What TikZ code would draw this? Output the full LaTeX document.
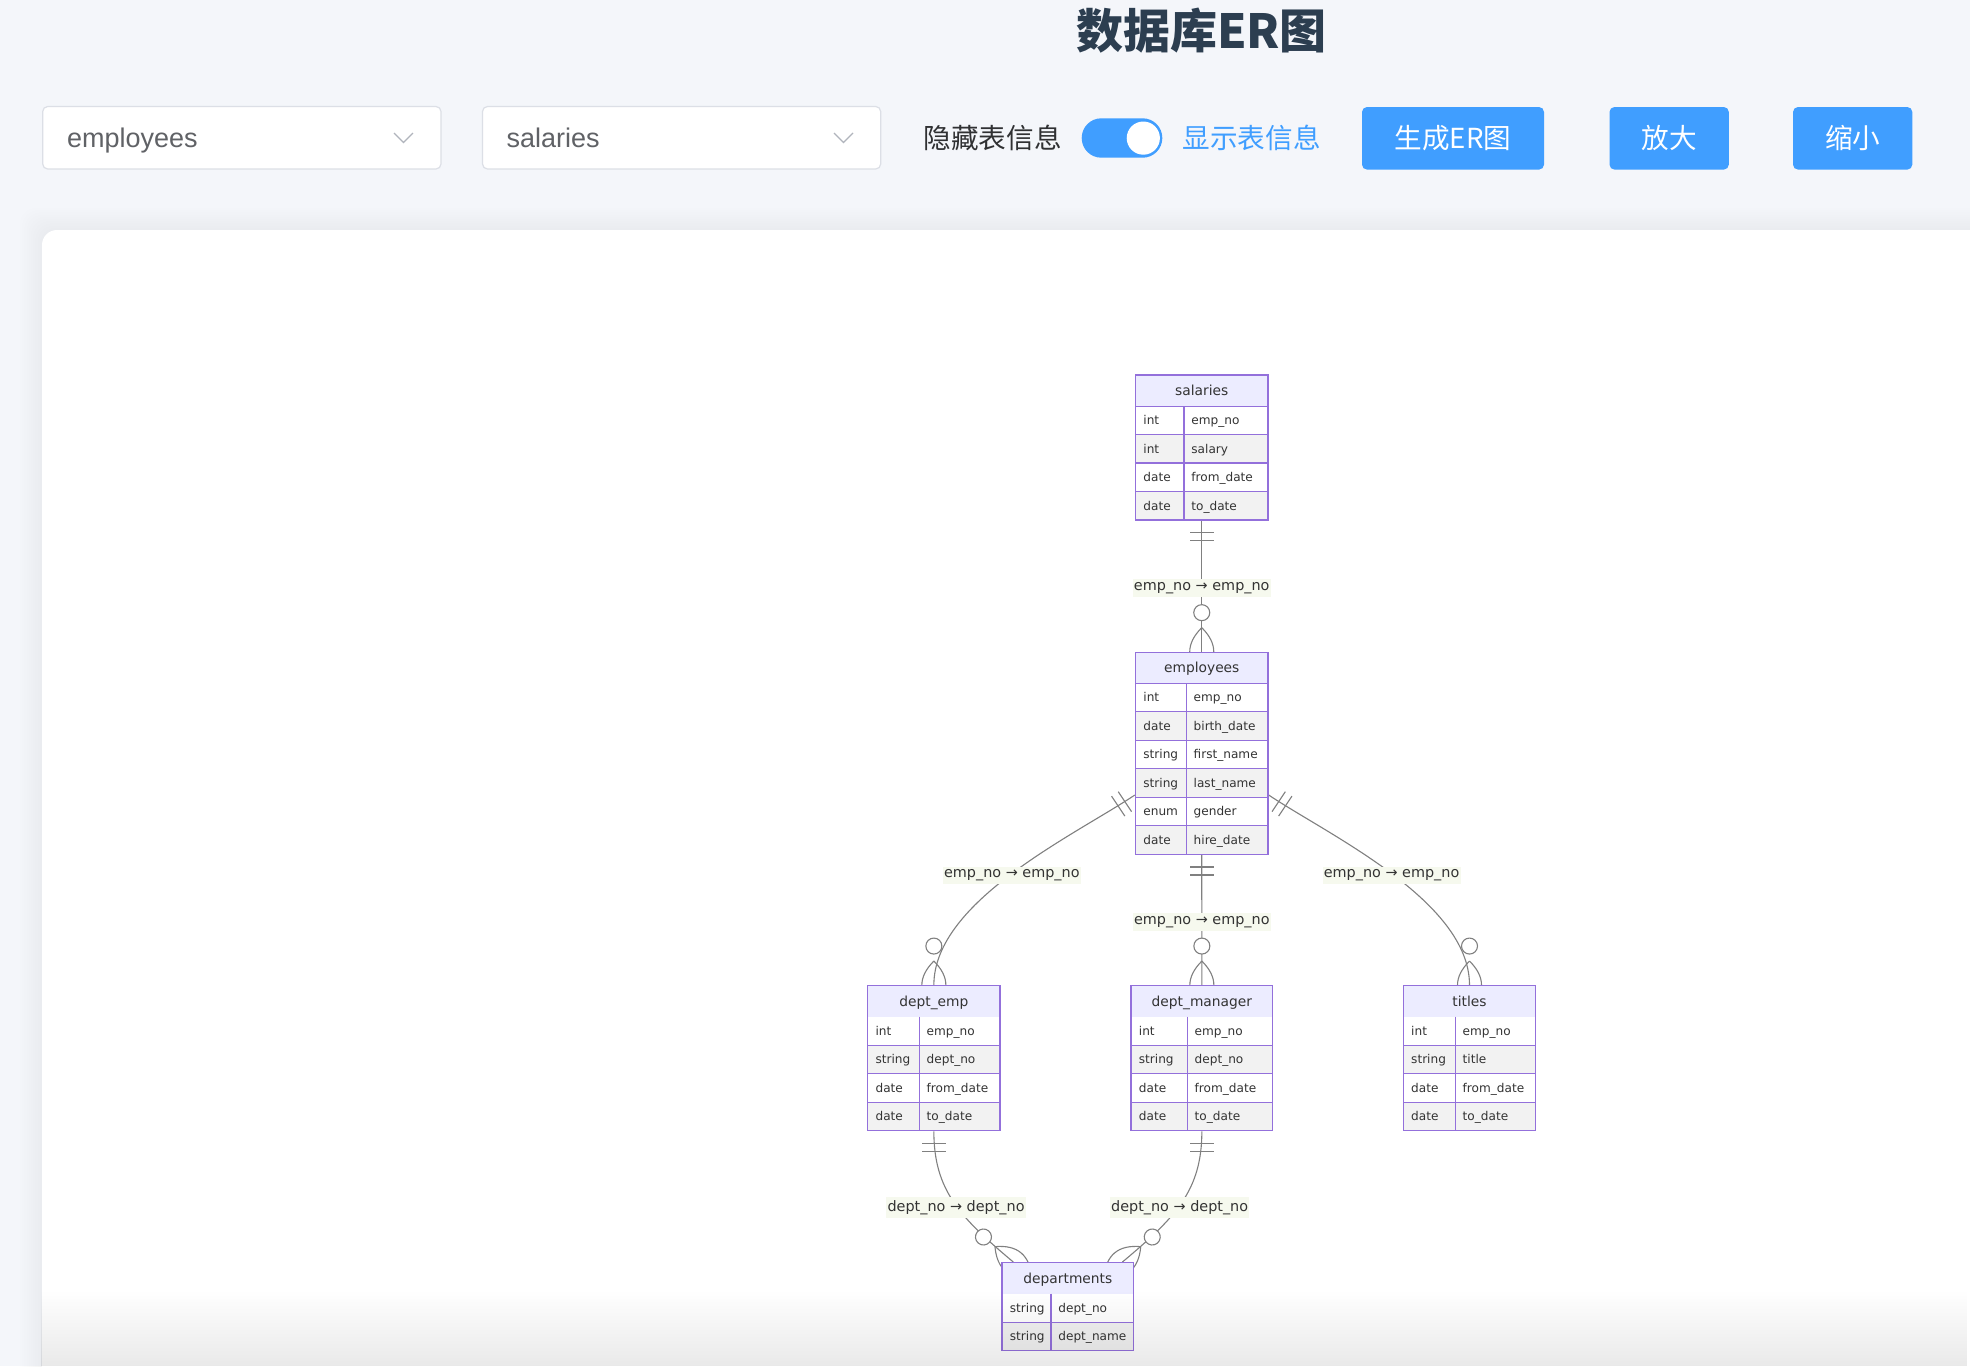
\documentclass[tikz,border=0pt]{standalone}
\usepackage{fontspec}
\setmainfont{DejaVu Sans}
\newfontfamily\cjk{Noto Sans CJK SC}
\newfontfamily\uifont{Liberation Sans}
\usetikzlibrary{calc,fit,fadings}
\definecolor{pagebg}{HTML}{F4F6FA}
\definecolor{titlecol}{HTML}{2C3E50}
\definecolor{elblue}{HTML}{409EFF}
\definecolor{inborder}{HTML}{DCDFE6}
\definecolor{intext}{HTML}{606266}
\definecolor{chevcol}{HTML}{B0B4BC}
\definecolor{darktext}{HTML}{303133}
\definecolor{hdrfill}{HTML}{ECECFF}
\definecolor{tborder}{HTML}{9370DB}
\definecolor{rowgray}{HTML}{F2F2F2}
\definecolor{ertext}{HTML}{333333}
\definecolor{edgecol}{HTML}{808080}
\definecolor{lblbg}{HTML}{F6F9EE}
\tikzfading[name=fadeup, top color=transparent!100, bottom color=transparent!0]
\pgfdeclarelayer{bg}
\pgfdeclarelayer{edges}
\pgfsetlayers{bg,edges,main}
\tikzset{
  erline/.style={draw=edgecol, line width=0.55pt},
  tline/.style={draw=tborder, line width=0.65pt},
  hdrtext/.style={font=\fontsize{6.9pt}{8pt}\selectfont, text=ertext, inner sep=0pt},
  rowtext/.style={font=\fontsize{6.05pt}{7pt}\selectfont, text=ertext, inner sep=0pt},
  elabel/.style={font=\fontsize{7.2pt}{8.6pt}\selectfont, text=ertext, fill=lblbg, inner xsep=0.6pt, inner ysep=1.6pt, yshift=-1pt},
  cjktext/.style={font=\cjk\fontsize{13.8pt}{16pt}\selectfont, inner sep=0pt},
  btn/.style={fill=elblue, rounded corners=2.5pt},
  dropbox/.style={fill=white, draw=inborder, line width=0.6pt, rounded corners=2.5pt},
  droptext/.style={font=\uifont\fontsize{13.5pt}{16pt}\selectfont, text=intext, anchor=base west, inner sep=0pt},
  chev/.style={draw=chevcol, line width=0.6pt},
}
% ER table: #1 name, #2 left, #3 top, #4 divider, #5 right, #6 title, #7 rows, #8 list
\newcommand\ertable[8]{%
  \pgfmathsetmacro\erbot{#3+31+28.5*#7}%
  \pgfmathsetmacro\erhb{#3+31}%
  \foreach \ta/\na [count=\ri] in {#8} {%
    \pgfmathsetmacro\ry{#3+31+28.5*(\ri-1)}%
    \ifodd\ri\relax \def\rc{white}\else \def\rc{rowgray}\fi
    \fill[\rc] (#2,\ry) rectangle (#5,\ry+28.5);
    \draw[tline] (#2,\ry) -- (#5,\ry);
    \node[rowtext, anchor=base west] (#1-t\ri) at (#2+7.5,\ry+18.55) {\ta};
    \node[rowtext, anchor=base west] (#1-n\ri) at (#4+7,\ry+18.55) {\na};
  }%
  \fill[hdrfill] (#2,#3) rectangle (#5,\erhb);
  \draw[tline] (#4,\erhb) -- (#4,\erbot);
  \node[tline, fit={(#2,#3) (#5,\erbot)}, inner sep=0pt] (#1) {};
  \node[hdrtext, anchor=base] (#1-h) at ({(#2+#5)/2},#3+20.3) {#6};
}
% marker "exactly one": #1 point, #2 angle pointing away from the table
\newcommand\onemark[2]{%
  \begin{scope}[shift={(#1)}, rotate=#2]
    \draw[erline] (12,-12) -- (12,12) (20,-12) -- (20,12);
  \end{scope}}
% marker "zero or more"
\newcommand\manymark[2]{%
  \begin{scope}[shift={(#1)}, rotate=#2]
    \draw[erline] (24,0) .. controls (8,16) and (-8,16) .. (-24,0);
    \draw[erline] (24,0) .. controls (8,-16) and (-8,-16) .. (-24,0);
    \draw[erline, fill=white] (39,0) circle[radius=4pt];
  \end{scope}}
\begin{document}
\begin{tikzpicture}[x=0.5pt, y=-0.5pt]
\useasboundingbox (0,0) rectangle (1970,1366);
\begin{pgfonlayer}{bg}
  \fill[pagebg] (0,0) rectangle (1970,1366);
  \foreach \k in {1,...,10} {
    \fill[black, opacity=0.0055, rounded corners=8pt] ({42-2.2*\k},{230-2.2*\k}) rectangle (2100,1500);
  }
  \fill[white, rounded corners=7.5pt] (42,230) rectangle (2100,1500);
\end{pgfonlayer}

% header / toolbar
\node[font=\cjk\bfseries\fontsize{23.5pt}{27pt}\selectfont, text=titlecol, inner sep=0pt] (title) at (1201.5,31) {数据库ER图};
\draw[dropbox] (42.7,106.5) rectangle (441,169);
\node[droptext] (dd1) at (66.6,147.5) {employees};
\draw[chev] (394,133) -- (403.5,142.5) -- (413,133);
\draw[dropbox] (482.5,106.5) rectangle (880.7,169);
\node[droptext] (dd2) at (506.3,147.5) {salaries};
\draw[chev] (834,133) -- (843.5,142.5) -- (853,133);
\node[cjktext, text=darktext] (hide) at (992.6,138) {隐藏表信息};
\fill[elblue, rounded corners=9.8pt] (1081.7,118.3) rectangle (1162.3,157.7);
\fill[white] (1143.3,138.1) circle[radius=8.3pt];
\node[cjktext, text=elblue] (show) at (1251.6,138) {显示表信息};
\fill[btn] (1362,107) rectangle (1544,169.6);
\node[cjktext, text=white] (b1) at (1453,138.3) {生成ER图};
\fill[btn] (1609.5,107) rectangle (1728.8,169.6);
\node[cjktext, text=white] (b2) at (1669.2,138.3) {放大};
\fill[btn] (1793,107) rectangle (1912.3,169.6);
\node[cjktext, text=white] (b3) at (1852.7,138.3) {缩小};

% tables
\ertable{sal}{1135.5}{375}{1184}{1268}{salaries}{4}{int/emp\_no, int/salary, date/from\_date, date/to\_date}
\ertable{emp}{1135.5}{652.3}{1186.3}{1268}{employees}{6}{int/emp\_no, date/birth\_date, string/first\_name, string/last\_name, enum/gender, date/hire\_date}
\ertable{demp}{867.7}{985.7}{919.3}{1000}{dept\_emp}{4}{int/emp\_no, string/dept\_no, date/from\_date, date/to\_date}
\ertable{dman}{1131}{985.7}{1187.3}{1272.7}{dept\_manager}{4}{int/emp\_no, string/dept\_no, date/from\_date, date/to\_date}
\ertable{ttl}{1403.3}{985.7}{1455.3}{1535.7}{titles}{4}{int/emp\_no, string/title, date/from\_date, date/to\_date}
\ertable{dep}{1002}{1262.7}{1051}{1133.7}{departments}{2}{string/dept\_no, string/dept\_name}

% relationships
\begin{pgfonlayer}{edges}
  \coordinate (e2) at ($(emp.west)+(0,41.7)$);
  \coordinate (e4) at ($(emp.east)+(0,41.7)$);
  \coordinate (d5) at ($(dep.north)+(-54.5,0)$);
  \coordinate (d6) at ($(dep.north)+(54.5,0)$);
  \draw[erline] (sal.south) -- node[elabel] (l1) {emp\_no → emp\_no} (emp.north);
  \draw[erline] (e2) .. controls +(-60,40) and +(0,-84) .. node[elabel, pos=0.5] (l2) {emp\_no → emp\_no} (demp.north);
  \draw[erline] (emp.south) -- node[elabel] (l3) {emp\_no → emp\_no} (dman.north);
  \draw[erline] (e4) .. controls +(60,40) and +(0,-84) .. node[elabel, pos=0.5] (l4) {emp\_no → emp\_no} (ttl.north);
  \draw[erline] (demp.south) .. controls +(0,59) and +(-53.3,-44.7) .. node[elabel, pos=0.53] (l5) {dept\_no → dept\_no} (d5);
  \draw[erline] (dman.south) .. controls +(0,59) and +(53.3,-44.7) .. node[elabel, pos=0.53] (l6) {dept\_no → dept\_no} (d6);
  \onemark{sal.south}{-90}  \manymark{emp.north}{90}
  \onemark{e2}{-146.31}     \manymark{demp.north}{90}
  \onemark{emp.south}{-90}  \manymark{dman.north}{90}
  \onemark{e4}{-33.69}      \manymark{ttl.north}{90}
  \onemark{demp.south}{-90} \manymark{d5}{140.02}
  \onemark{dman.south}{-90} \manymark{d6}{39.98}
\end{pgfonlayer}

% bottom shade of the panel
\fill[black, opacity=0.085, path fading=fadeup] (42,1290) rectangle (1970,1366);
\end{tikzpicture}
\end{document}
